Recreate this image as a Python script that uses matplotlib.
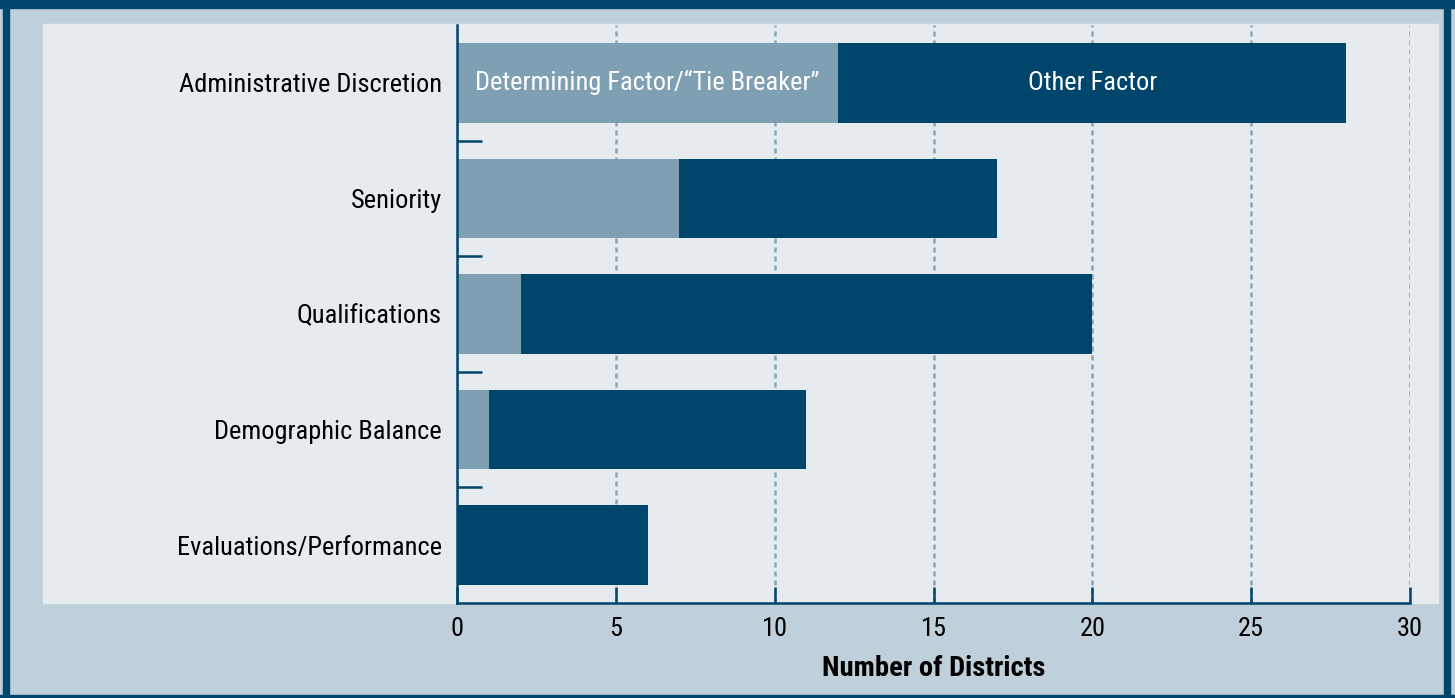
import matplotlib.pyplot as plt
from matplotlib.patches import Rectangle
from matplotlib.ticker import FixedLocator

categories = ['Administrative Discretion', 'Seniority', 'Qualifications',
              'Demographic Balance', 'Evaluations/Performance']
determining = [12, 7, 2, 1, 0]
other = [16, 10, 18, 10, 6]
xticks = [0, 5, 10, 15, 20, 25, 30]

DARK = '#00456b'
LIGHT = '#7fa0b3'
PANEL = '#e6ebef'
BG = '#bfd0da'

plt.rcParams['font.family'] = ['Roboto Condensed', 'Archivo Narrow', 'Liberation Sans', 'DejaVu Sans']
FS = 19

W, H = 1455, 698
fig = plt.figure(figsize=(W / 100, H / 100), dpi=100, facecolor=BG)

# outer frame
frame = [(0, 1 - 8 / H, 1, 8 / H), (3 / W, 0, 6 / W, 1),
         (1444 / W, 0, 6 / W, 1), (0, 0, 1, 3 / H)]
for x0, y0, w, h in frame:
    fig.patches.append(Rectangle((x0, y0), w, h, transform=fig.transFigure,
                                 color=DARK, zorder=0))
# inner panel
fig.patches.append(Rectangle((43 / W, (H - 603) / H), 1395 / W, 579 / H,
                             transform=fig.transFigure, color=PANEL, zorder=0))

ax = fig.add_axes([457 / W, (H - 603) / H, (1410 - 457) / W, (603 - 25) / H])
ax.set_zorder(2)
ax.set_facecolor('none')

y = list(range(len(categories)))
ax.barh(y, determining, height=0.69, color=LIGHT, zorder=2)
ax.barh(y, other, left=determining, height=0.69, color=DARK, zorder=2)

ax.text(determining[0] / 2, 0, 'Determining Factor/\u201cTie Breaker\u201d',
        color='white', ha='center', va='center', fontsize=FS, zorder=3)
ax.text(determining[0] + other[0] / 2, 0, 'Other Factor',
        color='white', ha='center', va='center', fontsize=FS, zorder=3)

ax.set_xlim(0, 30)
ax.set_ylim(len(categories) - 0.5, -0.5)
ax.set_xticks(xticks)
ax.set_xticklabels([str(t) for t in xticks], fontsize=FS)
ax.set_yticks(y)
ax.set_yticklabels(categories, fontsize=FS)
ax.yaxis.set_minor_locator(FixedLocator([i + 0.5 for i in range(len(categories) - 1)]))

ax.tick_params(axis='x', direction='in', length=11.5, width=1.8, color=DARK, pad=10)
ax.tick_params(axis='y', which='major', length=0, pad=11)
ax.tick_params(axis='y', which='minor', direction='in', length=18, width=1.8, color=DARK)

for s in ['top', 'right']:
    ax.spines[s].set_visible(False)
for s in ['left', 'bottom']:
    ax.spines[s].set_color(DARK)
    ax.spines[s].set_linewidth(1.8)

ax.grid(axis='x', color='#88a6b8', linestyle=(0, (2, 1.6)), linewidth=1.8, zorder=1)
ax.set_axisbelow(True)

ax.set_xlabel('Number of Districts', fontsize=20.5, fontweight='bold', labelpad=10)

fig.savefig('out.png', dpi=100, facecolor=BG)
